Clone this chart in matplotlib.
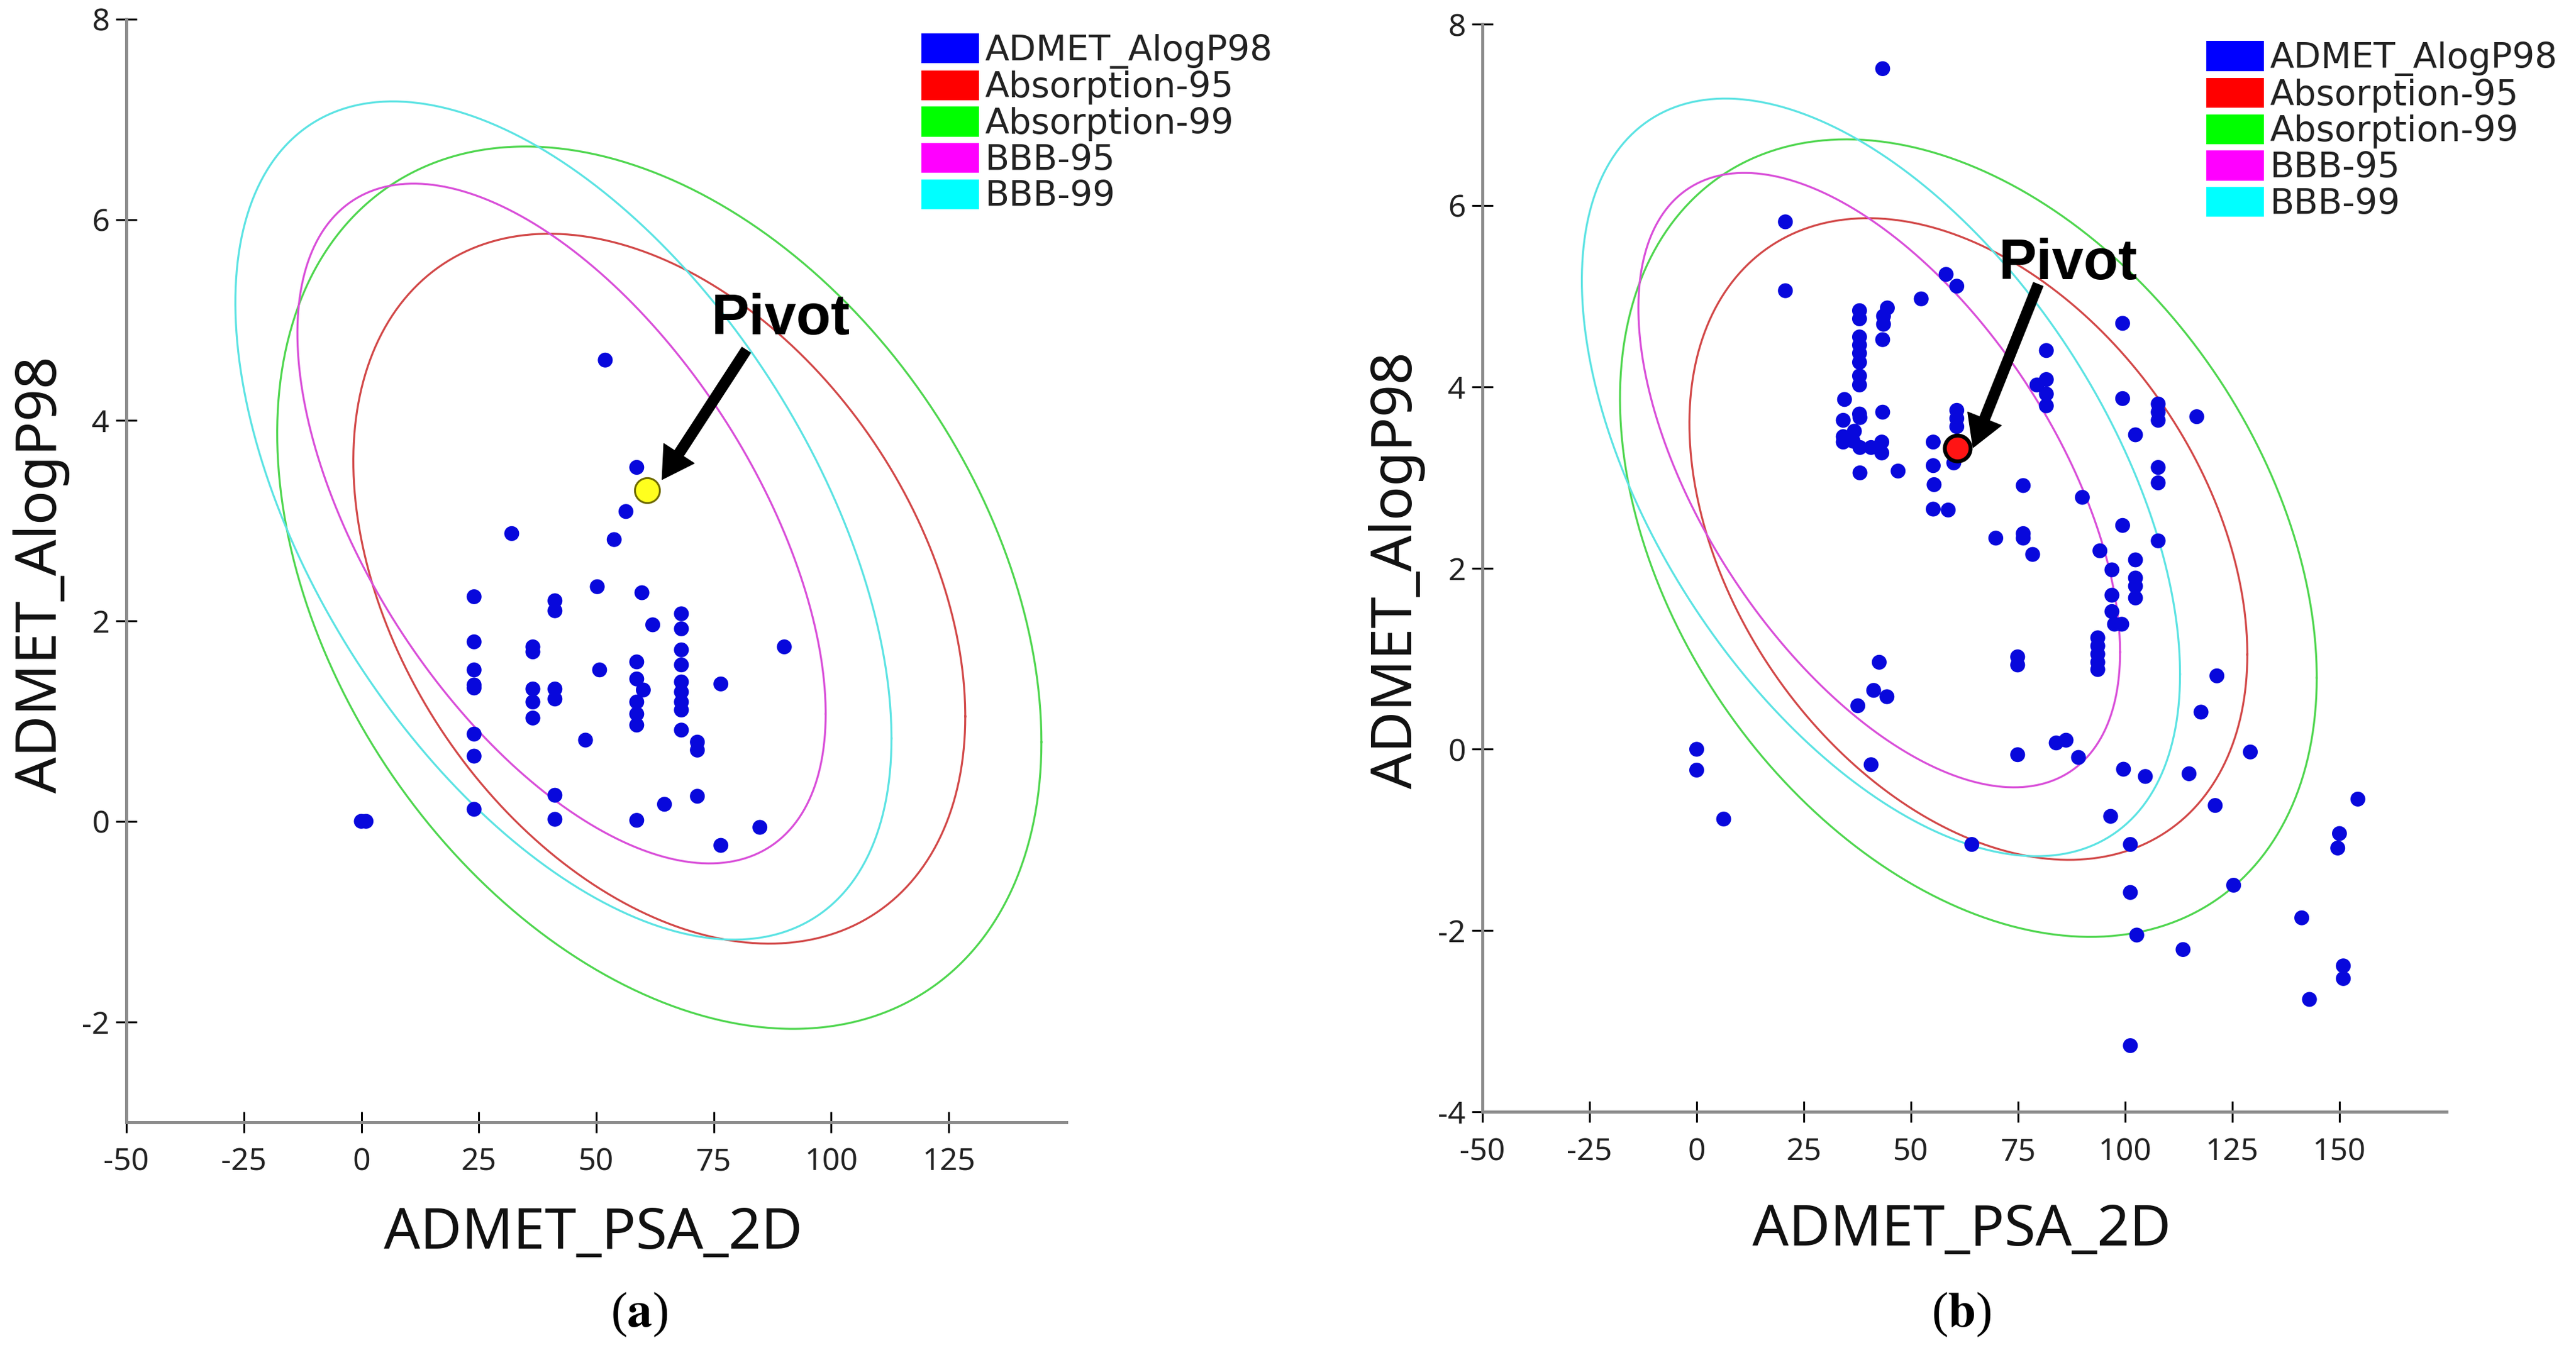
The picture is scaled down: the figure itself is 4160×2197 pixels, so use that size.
import numpy as np
import matplotlib
matplotlib.use('Agg')
import matplotlib.pyplot as plt
from matplotlib.patches import Patch

plt.rcParams['mathtext.fontset'] = 'stix'
plt.rcParams['axes.unicode_minus'] = False

LABEL_FONT = ['Noto Sans', 'DejaVu Sans']

# ---- data: panel (a) ----
a_x = [0.0, 1.0, 24.0, 24.0, 24.0, 24.0, 24.0, 24.0, 24.0, 24.0,
       32.0, 36.5, 36.5, 36.5, 36.5, 36.5, 41.2, 41.2, 41.2, 41.2, 41.2, 41.2,
       47.7, 50.2, 50.7, 51.9, 53.8, 56.3, 58.6, 58.6, 58.6, 58.6, 58.6, 58.6, 58.6,
       59.7, 60.0, 62.0, 64.5, 68.1, 68.1, 68.1, 68.1, 68.1, 68.1, 68.1, 68.1, 68.1,
       71.5, 71.5, 71.5, 76.5, 76.5, 84.8, 90.0]
a_y = [0.0, 0.0, 2.24, 1.79, 1.51, 1.33, 0.87, 0.65, 0.12, 1.36,
       2.87, 1.74, 1.69, 1.32, 1.19, 1.03, 2.20, 2.10, 1.32, 1.22, 0.26, 0.02,
       0.81, 2.34, 1.51, 4.60, 2.81, 3.09, 3.53, 1.59, 1.42, 1.19, 1.07, 0.96, 0.01,
       2.28, 1.31, 1.96, 0.17, 2.07, 1.92, 1.71, 1.56, 1.39, 1.29, 1.19, 1.11, 0.91,
       0.79, 0.71, 0.25, 1.37, -0.24, -0.06, 1.74]
a_pivot = (60.8, 3.30)

# ---- data: panel (b) ----
b_x = [43.4, 20.7, 20.7, 52.4, 58.2, 60.7,
       38.0, 38.0, 38.0, 38.0, 38.0, 38.0, 38.0, 38.0, 38.0, 36.5,
       44.5, 43.6, 43.6, 43.4, 34.5, 43.4,
       34.2, 38.1, 34.2, 36.8, 34.2, 38.1, 40.7, 43.2, 43.2, 38.1, 47.0,
       60.7, 60.7, 60.7, 55.2, 60.0, 55.2,
       81.6, 81.6, 79.4, 81.6, 81.6,
       99.4, 99.4, 107.7, 107.7, 107.7, 116.7, 102.4, 107.7, 107.7, 90.0, 99.4,
       107.7, 94.1, 102.4, 96.9, 102.4, 102.4, 102.4,
       55.4, 76.2, 55.2, 58.7, 69.8, 76.2, 76.2, 78.4,
       93.6, 93.6, 93.6, 93.6, 93.6, 96.9, 96.9, 97.5, 99.2,
       74.9, 74.9, 42.6, 41.3, 44.4, 37.6,
       74.9, 83.9, 86.2, 89.1, 40.7, 0.0, 0.0, 6.3, 64.2,
       121.4, 117.7, 129.2, 99.6, 104.7, 114.9, 121.0, 96.6, 101.2, 154.3,
       150.0, 149.6, 125.3, 101.2, 102.7, 113.5, 141.2, 150.9, 150.9, 143.0, 101.2]
b_y = [7.51, 5.82, 5.06, 4.97, 5.24, 5.11,
       4.84, 4.75, 4.55, 4.46, 4.37, 4.27, 4.12, 4.02, 3.70, 3.40,
       4.87, 4.78, 4.69, 4.52, 3.86, 3.72,
       3.63, 3.66, 3.45, 3.51, 3.39, 3.33, 3.33, 3.39, 3.27, 3.05, 3.07,
       3.74, 3.65, 3.56, 3.39, 3.16, 3.13,
       4.40, 4.08, 4.02, 3.92, 3.79,
       4.70, 3.87, 3.81, 3.72, 3.63, 3.67, 3.47, 3.11, 2.94, 2.78, 2.47,
       2.30, 2.19, 2.09, 1.98, 1.89, 1.80, 1.67,
       2.92, 2.91, 2.65, 2.64, 2.33, 2.38, 2.33, 2.15,
       1.23, 1.14, 1.05, 0.96, 0.88, 1.70, 1.52, 1.38, 1.38,
       1.02, 0.93, 0.96, 0.65, 0.58, 0.48,
       -0.06, 0.07, 0.10, -0.09, -0.17, 0.0, -0.23, -0.77, -1.05,
       0.81, 0.41, -0.03, -0.22, -0.30, -0.27, -0.62, -0.74, -1.05, -0.55,
       -0.93, -1.09, -1.50, -1.58, -2.05, -2.21, -1.86, -2.39, -2.53, -2.76, -3.27]
b_pivot = (60.8, 3.32)

# ---- confidence ellipses (centre, half-extent in x / y, cos of phase) ----
ell_names = ['Absorption-95', 'Absorption-99', 'BBB-95', 'BBB-99']
ell_cx = [63.4, 63.4, 42.6, 43.0]
ell_cy = [2.32, 2.33, 2.97, 3.00]
ell_rx = [65.1, 81.3, 56.2, 69.8]
ell_ry = [3.54, 4.40, 3.39, 4.18]
ell_cos = [-0.36, -0.35, -0.56, -0.52]
ell_colors = ['#d24848', '#4fd64f', '#d94fd9', '#5ce3e3']

legend_labels = ['ADMET_AlogP98'] + ell_names
legend_colors = ['#0000ff', '#ff0000', '#00ff00', '#ff00ff', '#00ffff']

fig = plt.figure(figsize=(41.6, 21.97), dpi=100)
ax1 = fig.add_axes([0.04904, 0.17492, 0.41394 - 0.04904, 0.98589 - 0.17492])
ax2 = fig.add_axes([0.57548, 0.18252, 0.94976 - 0.57548, 0.98216 - 0.18252])

panels = [
    (ax1, a_x, a_y, a_pivot, (-50, 150), (-3, 8), np.arange(-50, 126, 25), np.arange(-2, 9, 2),
     dict(facecolor='#ffff1e', edgecolor='#6e6a00', s=840, lw=2.2),
     (89.2, 4.86), (81.9, 4.70), (64.0, 3.41),
     (0.3577, 0.9754), (0.2303, 0.0819), (0.0161, 0.5776), (0.2481, 0.0332), 'a'),
    (ax2, b_x, b_y, b_pivot, (-50, 175), (-4, 8), np.arange(-50, 151, 25), np.arange(-4, 9, 2),
     dict(facecolor='#ff1414', edgecolor='black', s=900, lw=4.5),
     (86.7, 5.19), (79.7, 5.13), (64.5, 3.33),
     (0.8565, 0.9698), (0.7615, 0.0840), (0.5423, 0.5808), (0.7615, 0.0332), 'b'),
]

t = np.linspace(0, 2 * np.pi, 500)

for (ax, xs, ys, piv, xl, yl, xt, yt, pstyle, txt_pos, tail, tip,
     leg_pos, xlab_pos, ylab_pos, cap_pos, cap) in panels:
    # ellipses
    for cx, cy, rx, ry, c, col in zip(ell_cx, ell_cy, ell_rx, ell_ry, ell_cos, ell_colors):
        d = np.arccos(c)
        ax.plot(cx + rx * np.cos(t), cy + ry * np.cos(t + d), color=col, lw=2.3, zorder=2)
    # compounds
    ax.scatter(xs, ys, s=300, color='#0808dc', edgecolors='none', zorder=3)
    ax.scatter([piv[0]], [piv[1]], s=pstyle['s'], facecolor=pstyle['facecolor'],
               edgecolors=pstyle['edgecolor'], linewidths=pstyle['lw'], zorder=4)

    ax.annotate('', xy=tip, xytext=tail,
                arrowprops=dict(facecolor='black', edgecolor='black', width=12,
                                headwidth=42, headlength=36, shrink=0), zorder=5)
    ax.text(txt_pos[0], txt_pos[1], 'Pivot', ha='center', va='baseline',
            fontsize=66, fontweight='bold', family=['Liberation Sans', 'DejaVu Sans'], zorder=5)

    ax.set_xlim(*xl)
    ax.set_ylim(*yl)
    ax.set_xticks(xt)
    ax.set_yticks(yt)
    for s in ['top', 'right']:
        ax.spines[s].set_visible(False)
    for s in ['left', 'bottom']:
        ax.spines[s].set_color('#8c8c8c')
        ax.spines[s].set_linewidth(3.6)
    ax.tick_params(direction='inout', length=24, width=2.2, color='black',
                   labelsize=36, labelcolor='#222222')
    ax.tick_params(axis='x', pad=17)
    ax.tick_params(axis='y', pad=7.5)
    for lab in ax.get_xticklabels() + ax.get_yticklabels():
        lab.set_family(LABEL_FONT)

    ax.set_xlabel('ADMET_PSA_2D', fontsize=66, family=LABEL_FONT, color='#111111')
    ax.xaxis.set_label_coords(xlab_pos[0], xlab_pos[1], transform=fig.transFigure)
    ax.xaxis.label.set_verticalalignment('baseline')
    ax.set_ylabel('ADMET_AlogP98', fontsize=66, family=LABEL_FONT, color='#111111')
    ax.yaxis.set_label_coords(ylab_pos[0], ylab_pos[1], transform=fig.transFigure)
    ax.yaxis.label.set_verticalalignment('center')

    handles = [Patch(facecolor=c, edgecolor='none', label=l)
               for c, l in zip(legend_colors, legend_labels)]
    leg = ax.legend(handles=handles, loc='upper left', bbox_to_anchor=leg_pos,
                    bbox_transform=fig.transFigure, frameon=False,
                    prop={'family': 'DejaVu Sans', 'size': 41},
                    handlelength=1.63, handleheight=0.93, handletextpad=0.17,
                    labelspacing=0.05, borderpad=0, borderaxespad=0)
    for tx in leg.get_texts():
        tx.set_color('#222222')

    fig.text(cap_pos[0], cap_pos[1], r'($\mathbf{%s}$)' % cap, ha='center', va='center',
             fontsize=58, family=['Liberation Serif', 'DejaVu Serif'])

fig.savefig('out.png', dpi=100)
